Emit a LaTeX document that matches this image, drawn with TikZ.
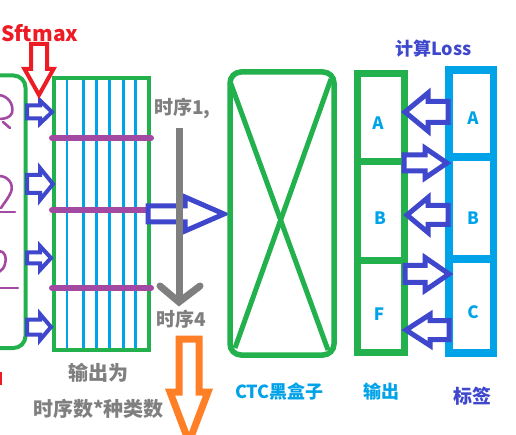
\documentclass[tikz,border=0pt]{standalone}
\usepackage{fontspec}
\setmainfont{Noto Sans CJK SC}
\definecolor{pgreen}{HTML}{22B14C}
\definecolor{plblue}{HTML}{00A2E8}
\definecolor{pdblue}{HTML}{3F48CC}
\definecolor{ppurple}{HTML}{A349A4}
\definecolor{pred}{HTML}{ED1C24}
\definecolor{pgray}{HTML}{7F7F7F}
\definecolor{porange}{HTML}{FF7F27}
\newcommand\harr[7]{\draw[#1] (#2,#5-#6) -- (#3,#5-#6) -- (#3,#5-#7) -- (#4,#5) -- (#3,#5+#7) -- (#3,#5+#6) -- (#2,#5+#6) -- cycle;}
\newcommand\varr[7]{\draw[#1] (#5-#6,#2) -- (#5-#6,#3) -- (#5-#7,#3) -- (#5,#4) -- (#5+#7,#3) -- (#5+#6,#3) -- (#5+#6,#2) -- cycle;}
\tikzset{
  txt/.style={inner sep=0pt, font=\bfseries},
  smarr/.style={draw=pdblue, line width=4pt, line join=miter, fill=white},
  bigarr/.style={draw=pdblue, line width=5pt, line join=miter, fill=white},
  letter/.style={txt, text=plblue, font=\bfseries\fontsize{17}{17}\selectfont},
}
\begin{document}
\begin{tikzpicture}[x=1pt,y=-1pt]
\useasboundingbox (0,0) rectangle (516,435);
\clip (0,0) rectangle (516,435);
\fill[white] (0,0) rectangle (516,435);
% left rounded box
\draw[pgreen, line width=4pt, rounded corners=12pt] (-30,75.5) rectangle (25.5,348);
% purple scribbles
\begin{scope}[ppurple, line width=2.6pt, line cap=round]
\draw (-1,95) .. controls (8,96) and (14,104) .. (12,113) .. controls (10,118) and (4,119) .. (-1,119);
\draw (3,122) -- (10,128);
\draw (-1,176) .. controls (8,176) and (14,184) .. (11,192) .. controls (8,199) and (4,203) .. (1,208);
\draw (-1,212) -- (15,212);
\draw (-1,251) .. controls (5,251) and (7,258) .. (5,264) .. controls (4,268) and (2,270) .. (-1,272);
\draw (-1,288) -- (18,288);
\end{scope}
\draw[pred, line width=2.5pt] (1,372) -- (1,385);
% grid box
\foreach \x in {67,83.5,96.5,109.3,123.3,135.7}
  \draw[plblue, line width=2.6pt] (\x,78) -- (\x,351);
\draw[pgreen, line width=4pt] (54,78.5) rectangle (148.5,349.5);
\foreach \y in {138,210,288}
  \draw[ppurple, line width=6pt, line cap=round] (52,\y) -- (151,\y);
% small blue arrows
\harr{smarr}{27}{40}{52}{112}{6.5}{11.5}
\harr{smarr}{27}{40}{53}{184}{9}{16}
\harr{smarr}{27}{40}{51}{258}{5.5}{12}
\harr{smarr}{27}{40}{51}{327}{7.5}{13}
% red arrow + Sftmax
\node[txt, anchor=base west, text=pred, font=\bfseries\fontsize{21}{21}\selectfont] (sft) at (1,42) {Sftmax};
\varr{draw=pred, line width=4pt, fill=white, line join=miter}{44}{69}{95}{39}{8}{14.5}
% big blue arrow to CTC
\harr{bigarr}{148}{185}{224}{214}{8}{17}
% gray time arrow
\draw[pgray, line width=7pt] (179,128) -- (179,298);
\draw[pgray, line width=7pt, line cap=round, line join=miter] (160,286) -- (179,302) -- (200,286);
\node[txt, anchor=base west, text=pgray, font=\bfseries\fontsize{19}{19}\selectfont] (t1) at (154,115) {时序1,};
\node[txt, anchor=base west, text=pgray, font=\bfseries\fontsize{19}{19}\selectfont] (t4) at (156,326) {时序4};
% CTC box
\draw[pgreen, line width=5.5pt, rounded corners=11pt] (230,72) rectangle (334,355);
\draw[pgreen, line width=5pt] (231,84) -- (328,350);
\draw[pgreen, line width=5pt] (331,79) -- (235,348);
% output column
\draw[pgreen, line width=7pt] (357,74) rectangle (404.5,352.5);
\draw[pgreen, line width=7pt] (357,162) -- (404.5,162);
\draw[pgreen, line width=7pt] (357,260.5) -- (404.5,260.5);
% label column
\draw[plblue, line width=7.5pt] (449,70) rectangle (493.5,353);
\draw[plblue, line width=7.5pt] (449,157) -- (493.5,157);
\draw[plblue, line width=7.5pt] (449,259) -- (496,259);
% letters
\node[letter] (oa) at (378,123) {A};
\node[letter] (ob) at (380,218) {B};
\node[letter] (of) at (379,314) {F};
\node[letter] (la) at (473,118) {A};
\node[letter] (lb) at (473,218) {B};
\node[letter] (lc) at (473,312) {C};
% arrows between columns
\harr{bigarr}{448}{428}{405}{112}{10.5}{19}
\harr{bigarr}{404}{425}{447}{163}{8}{15}
\harr{bigarr}{448}{428}{407}{215}{9.5}{17.5}
\harr{bigarr}{405}{425}{449}{274}{8.5}{16.5}
\harr{bigarr}{449}{430}{406}{330}{9.5}{15.5}
% orange arrow
\varr{draw=porange, line width=7pt, fill=white, line join=miter}{339}{392}{442}{189}{10}{19}
% texts
\node[txt, anchor=base west, text=pdblue, font=\bfseries\fontsize{18}{18}\selectfont] (loss) at (395,56) {计算Loss};
\node[txt, anchor=base west, text=pgray, font=\bfseries\fontsize{20}{20}\selectfont] (out1) at (68,380) {输出为};
\node[txt, anchor=base west, text=pgray, font=\bfseries\fontsize{20}{20}\selectfont] (out2) at (33,416) {时序数*种类数};
\node[txt, anchor=base west, text=plblue, font=\bfseries\fontsize{18}{18}\selectfont] (ctc) at (235,398) {CTC黑盒子};
\node[txt, anchor=base west, text=plblue, font=\bfseries\fontsize{18}{18}\selectfont] (outl) at (363,398) {输出};
\node[txt, anchor=base west, text=pdblue, font=\bfseries\fontsize{19}{19}\selectfont] (tag) at (453,403) {标签};
\end{tikzpicture}
\end{document}
